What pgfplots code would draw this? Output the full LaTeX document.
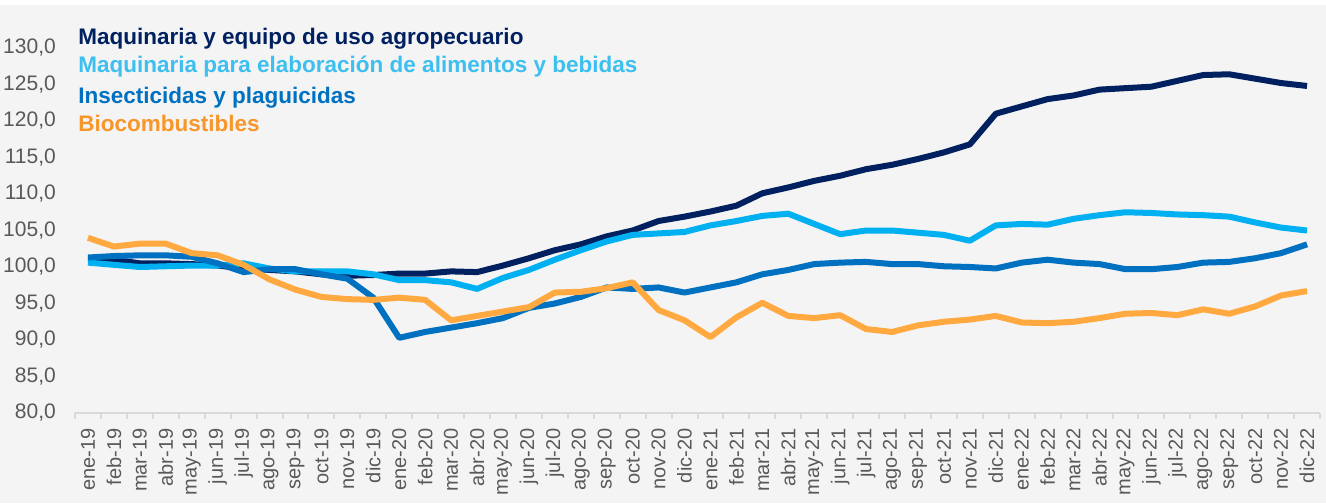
\documentclass[border=0pt]{standalone}
\usepackage{pgfplots}
\pgfplotsset{compat=1.18}
\usepackage{pgfplotstable}
\usepackage{fontspec}
\setmainfont{Liberation Sans}
\definecolor{bgc}{HTML}{F4F4F4}
\definecolor{navy}{HTML}{002060}
\definecolor{lblue}{HTML}{00B0F0}
\definecolor{lbluet}{HTML}{3DBFF0}
\definecolor{mblue}{HTML}{0070C0}
\definecolor{orng}{HTML}{FFA940}
\definecolor{orngt}{HTML}{F7962A}
\definecolor{tickc}{HTML}{595959}
\definecolor{axc}{HTML}{D9D9D9}
\pgfplotstableread{
x a b c d
0 101.2 100.6 101.3 104.0
1 101.0 100.3 101.5 102.8
2 100.5 100.0 101.6 103.2
3 100.5 100.1 101.6 103.2
4 100.4 100.2 101.4 101.9
5 100.2 100.2 100.5 101.6
6 99.8 100.5 99.3 100.3
7 99.6 99.8 99.7 98.3
8 99.4 99.4 99.7 96.9
9 99.0 99.4 99.0 95.9
10 98.8 99.4 98.4 95.6
11 98.9 99.0 95.8 95.5
12 99.1 98.2 90.3 95.8
13 99.1 98.2 91.1 95.5
14 99.4 97.9 91.7 92.7
15 99.3 97.0 92.3 93.3
16 100.2 98.5 93.0 93.9
17 101.2 99.6 94.4 94.5
18 102.3 101.0 95.0 96.5
19 103.1 102.3 95.9 96.6
20 104.2 103.5 97.2 97.1
21 105.0 104.4 97.0 97.9
22 106.3 104.6 97.2 94.1
23 106.9 104.8 96.5 92.7
24 107.6 105.7 97.2 90.4
25 108.4 106.3 97.9 93.1
26 110.1 107.0 99.0 95.1
27 110.9 107.3 99.6 93.3
28 111.8 105.9 100.4 93.0
29 112.5 104.5 100.6 93.4
30 113.4 105.0 100.7 91.5
31 114.0 105.0 100.4 91.1
32 114.8 104.7 100.4 92.0
33 115.7 104.4 100.1 92.5
34 116.8 103.6 100.0 92.8
35 121.0 105.7 99.8 93.3
36 122.0 105.9 100.6 92.4
37 123.0 105.8 101.0 92.3
38 123.5 106.6 100.6 92.5
39 124.3 107.1 100.4 93.0
40 124.5 107.5 99.7 93.6
41 124.7 107.4 99.7 93.7
42 125.5 107.2 100.0 93.4
43 126.3 107.1 100.6 94.2
44 126.4 106.9 100.7 93.6
45 125.8 106.1 101.2 94.6
46 125.2 105.4 101.9 96.1
47 124.8 105.0 103.1 96.7
}\datatable
\begin{document}
\begin{tikzpicture}
\fill[bgc] (-37.5pt,-45pt) rectangle (625.5pt,206.5pt);
\fill[white] (-37.5pt,204pt) rectangle (625.5pt,206.5pt);
\begin{axis}[
  at={(0,0)}, anchor=south west,
  scale only axis,
  width=622.5pt, height=182.5pt,
  xmin=-0.5, xmax=47.5,
  ymin=80, ymax=130,
  ytick={80,85,...,130},
  xtick={0,...,47},
  xticklabels={ene-19,feb-19,mar-19,abr-19,may-19,jun-19,jul-19,ago-19,sep-19,oct-19,nov-19,dic-19,
    ene-20,feb-20,mar-20,abr-20,may-20,jun-20,jul-20,ago-20,sep-20,oct-20,nov-20,dic-20,
    ene-21,feb-21,mar-21,abr-21,may-21,jun-21,jul-21,ago-21,sep-21,oct-21,nov-21,dic-21,
    ene-22,feb-22,mar-22,abr-22,may-22,jun-22,jul-22,ago-22,sep-22,oct-22,nov-22,dic-22},
  minor xtick={-0.5,0.5,...,47.5},
  axis x line*=bottom,
  axis y line*=left,
  y axis line style={draw=none},
  x axis line style={axc, line width=1pt, -},
  xtick style={draw=none},
  ytick style={draw=none},
  minor tick length=3pt,
  tick align=outside,
  minor x tick style={axc, line width=1pt, draw=axc},
  every minor tick/.style={axc, line width=1pt},
  xticklabel style={rotate=90, anchor=east, font=\fontsize{10pt}{12pt}\selectfont, text=tickc},
  yticklabel style={font=\fontsize{10.5pt}{12pt}\selectfont, text=tickc, anchor=east, xshift=-1.8pt,
    /pgf/number format/.cd, fixed, fixed zerofill, precision=1, use comma, assume math mode=true},
  yticklabel={\pgfmathprintnumber[assume math mode=true]{\tick}},
  clip=false,
  line join=round,
]
\addplot[navy, line width=3pt] table[x=x, y=a] {\datatable};
\addplot[lblue, line width=3pt] table[x=x, y=b] {\datatable};
\addplot[mblue, line width=3pt] table[x=x, y=c] {\datatable};
\addplot[orng, line width=3pt] table[x=x, y=d] {\datatable};
\end{axis}
\begin{scope}[every node/.style={anchor=base west, inner sep=0pt, font=\fontsize{11.25pt}{13pt}\selectfont\bfseries}]
\node[text=navy] at (1.5pt,184pt) {Maquinaria y equipo de uso agropecuario};
\node[text=lbluet] at (1.5pt,170pt) {Maquinaria para elaboración de alimentos y bebidas};
\node[text=mblue] at (1.5pt,154.5pt) {Insecticidas y plaguicidas};
\node[text=orngt] at (1.5pt,140.5pt) {Biocombustibles};
\end{scope}
\pgfresetboundingbox
\useasboundingbox (-37.5pt,-45pt) rectangle (625.5pt,206.5pt);
\end{tikzpicture}
\end{document}
